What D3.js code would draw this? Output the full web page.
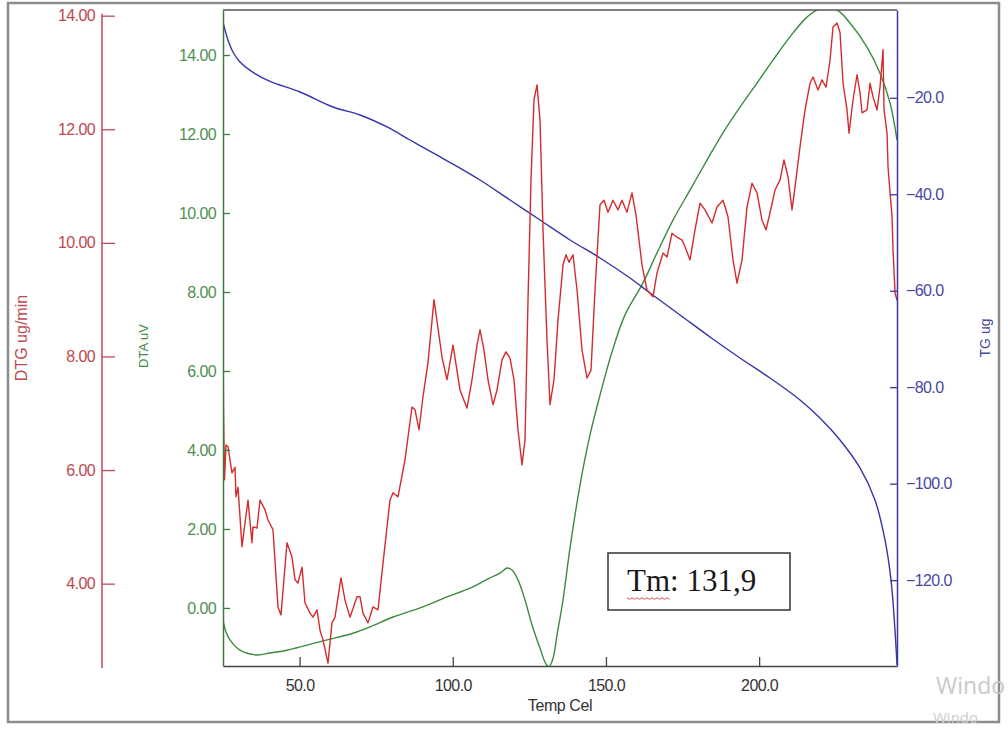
<!DOCTYPE html>
<html>
<head>
<meta charset="utf-8">
<script src="https://cdn.jsdelivr.net/npm/d3@7"></script>
<style>
  html, body { margin: 0; padding: 0; background: #ffffff; }
  svg { display: block; }
  text { font-family: "Liberation Sans", Arial, sans-serif; }
</style>
</head>
<body>
<svg id="chart" width="1008" height="731"></svg>
<script>
// Thermal analysis run: DTG (red), DTA (green) and TG (blue) versus temperature.

const tempTicks = [50, 100, 150, 200];
const dtgTicks = [4, 6, 8, 10, 12, 14];
const dtaTicks = [0, 2, 4, 6, 8, 10, 12, 14];
const tgTicks = [-20, -40, -60, -80, -100, -120];

// [temperature °C, DTG ug/min]
const dtgSeries = [
  [25.0, 8.38], [25.16, 7.06], [25.49, 5.83], [25.98, 6.44], [26.63, 6.41], [27.94, 5.95],
  [28.92, 6.05], [29.24, 5.53], [29.90, 5.70], [31.20, 4.65], [32.18, 5.07], [33.16, 5.47],
  [34.47, 4.72], [34.79, 5.00], [36.10, 4.98], [37.08, 5.47], [38.71, 5.30], [39.69, 5.12],
  [41.32, 4.95], [42.95, 3.59], [43.93, 3.45], [45.89, 4.72], [47.52, 4.47], [48.50, 4.07],
  [49.48, 4.01], [50.79, 4.29], [51.77, 3.66], [53.40, 3.48], [54.38, 3.41], [55.68, 3.54],
  [56.66, 3.18], [57.64, 3.01], [59.27, 2.60], [60.58, 3.31], [61.56, 3.41], [63.52, 4.10],
  [64.82, 3.71], [66.45, 3.41], [68.74, 3.77], [69.72, 3.77], [70.70, 3.48], [72.33, 3.31],
  [73.96, 3.59], [75.59, 3.54], [77.23, 4.36], [79.51, 5.47], [80.49, 5.60], [82.12, 5.53],
  [84.41, 6.18], [86.69, 7.11], [87.67, 7.06], [88.98, 6.71], [90.28, 7.29], [91.91, 7.89],
  [93.87, 9.00], [96.49, 7.99], [98.12, 7.59], [100.08, 8.20], [102.36, 7.41], [104.65, 7.09],
  [106.28, 7.59], [107.91, 8.20], [108.89, 8.47], [110.19, 8.11], [111.50, 7.59], [113.13, 7.15],
  [114.44, 7.41], [116.07, 7.94], [117.37, 8.08], [118.68, 7.97], [119.98, 7.59], [121.29, 6.71],
  [122.60, 6.09], [123.58, 6.53], [124.56, 9.00], [125.54, 11.11], [126.52, 12.52], [127.50, 12.78],
  [128.48, 12.16], [129.45, 10.23], [130.76, 8.29], [131.74, 7.15], [133.04, 7.59], [134.35, 8.64],
  [135.98, 9.61], [136.96, 9.79], [137.94, 9.66], [139.25, 9.79], [140.56, 9.17], [142.19, 8.11],
  [143.82, 7.62], [145.12, 7.76], [146.43, 9.17], [148.06, 10.67], [149.36, 10.75], [150.67, 10.54],
  [152.30, 10.75], [153.93, 10.58], [155.24, 10.75], [156.87, 10.54], [158.50, 10.88], [159.81, 10.49],
  [161.77, 9.61], [163.40, 9.17], [165.36, 9.05], [166.67, 9.47], [168.63, 9.82], [169.93, 9.75],
  [171.56, 10.17], [173.19, 10.10], [174.83, 10.05], [175.80, 9.93], [177.44, 9.70], [179.07, 10.23],
  [180.70, 10.70], [182.33, 10.58], [184.62, 10.35], [186.25, 10.63], [188.21, 10.75], [189.84, 10.46],
  [191.47, 9.70], [192.78, 9.29], [194.41, 9.70], [196.04, 10.63], [197.68, 11.05], [199.31, 10.88],
  [200.94, 10.40], [202.25, 10.23], [203.55, 10.53], [205.18, 10.93], [206.82, 11.11], [208.12, 11.46],
  [209.43, 11.16], [210.73, 10.58], [211.71, 10.98], [213.34, 11.69], [214.98, 12.34], [216.61, 12.81],
  [217.59, 12.92], [219.22, 12.69], [220.53, 12.87], [221.84, 12.74], [223.14, 13.22], [224.12, 13.80],
  [225.43, 13.87], [226.41, 13.70], [227.39, 12.81], [228.69, 12.34], [229.34, 11.93], [230.65, 12.52],
  [231.96, 12.96], [232.93, 12.64], [233.59, 12.29], [235.22, 12.34], [236.20, 12.81], [237.18, 12.57],
  [238.48, 12.34], [239.46, 12.74], [240.44, 13.40], [240.77, 12.34], [241.75, 11.93], [242.07, 11.34],
  [242.73, 10.88], [243.38, 10.46], [243.71, 9.87], [244.36, 9.12], [245.0, 8.99]
];

// [temperature °C, DTA uV]
const dtaSeries = [
  [25.0, -0.31], [25.98, -0.61], [27.28, -0.81], [30.55, -1.07], [36.10, -1.19], [40.34, -1.14],
  [45.89, -1.07], [52.42, -0.94], [58.95, -0.81], [67.43, -0.64], [72.98, -0.48], [80.49, -0.23],
  [89.30, 0.00], [98.12, 0.28], [105.62, 0.50], [112.15, 0.76], [115.42, 0.88], [117.71, 1.01],
  [119.34, 0.96], [121.29, 0.71], [123.58, 0.20], [125.86, -0.43], [128.48, -1.02], [130.43, -1.42],
  [131.41, -1.49], [132.72, -1.28], [134.02, -0.69], [135.98, 0.20], [138.27, 1.52], [141.53, 3.11],
  [144.79, 4.38], [148.06, 5.39], [151.97, 6.48], [156.22, 7.42], [162.09, 8.23], [166.66, 8.99],
  [171.88, 9.82], [177.43, 10.58], [182.98, 11.34], [188.20, 12.03], [193.75, 12.68], [199.30, 13.29],
  [204.52, 13.87], [210.07, 14.46], [215.62, 14.96], [219.86, 15.17], [225.41, 15.14], [229.66, 14.81],
  [235.21, 14.20], [239.45, 13.54], [242.72, 12.79], [245.0, 11.85]
];

// [temperature °C, TG ug]
const tgSeries = [
  [25.0, -4.29], [25.65, -5.95], [26.63, -8.02], [28.26, -10.51], [30.55, -12.58], [35.45, -15.00],
  [40.34, -16.60], [50.13, -18.80], [60.91, -21.91], [69.72, -23.57], [78.53, -26.05], [86.04, -28.75],
  [93.55, -31.44], [102.36, -34.57], [108.89, -37.04], [118.68, -41.19], [128.48, -45.33], [138.27, -49.48],
  [148.06, -53.21], [157.85, -57.36], [164.38, -60.47], [174.17, -65.02], [183.96, -69.59], [193.75, -73.94],
  [203.55, -78.09], [213.34, -82.64], [219.86, -86.38], [226.39, -90.94], [232.92, -96.74], [237.81, -103.38],
  [241.08, -111.67], [243.04, -119.96], [244.34, -130.32], [245.0, -137.58]
];

const tmLabel = "Tm: 131,9";

// ---- layout ----
const plot = { left: 223, right: 897, top: 10, bottom: 666 };
const redAxisX = 102;

const svg = d3.select("#chart");

// outer frame
svg.append("rect")
  .attr("x", 8).attr("y", 3).attr("width", 991).attr("height", 719)
  .attr("fill", "none").attr("stroke", "#8c8c8c").attr("stroke-width", 2.5);

// ---- scales ----
const x = d3.scaleLinear().domain([25, 245]).range([plot.left, plot.right]);
const yDTG = d3.scaleLinear().domain([2.55, 14.1]).range([plot.bottom, plot.top]);
const yDTA = d3.scaleLinear().domain([-1.47, 15.14]).range([plot.bottom, plot.top]);
const yTG = d3.scaleLinear().domain([-137.8, -1.8]).range([plot.bottom, plot.top]);

// ---- clip ----
svg.append("defs").append("clipPath").attr("id", "plotClip")
  .append("rect")
  .attr("x", plot.left).attr("y", plot.top)
  .attr("width", plot.right - plot.left).attr("height", plot.bottom - plot.top);

// ---- curves ----
const curves = svg.append("g").attr("clip-path", "url(#plotClip)");

curves.append("path")
  .datum(dtaSeries)
  .attr("fill", "none").attr("stroke", "#3d8a3d").attr("stroke-width", 1.4)
  .attr("d", d3.line().x(d => x(d[0])).y(d => yDTA(d[1])).curve(d3.curveCatmullRom.alpha(0.5)));

curves.append("path")
  .datum(tgSeries)
  .attr("fill", "none").attr("stroke", "#3535a8").attr("stroke-width", 1.4)
  .attr("d", d3.line().x(d => x(d[0])).y(d => yTG(d[1])).curve(d3.curveCatmullRom.alpha(0.5)));

curves.append("path")
  .datum(dtgSeries)
  .attr("fill", "none").attr("stroke", "#d42c2c").attr("stroke-width", 1.4)
  .attr("stroke-linejoin", "round")
  .attr("d", d3.line().x(d => x(d[0])).y(d => yDTG(d[1])));

// ---- plot frame (top edge) ----
svg.append("line")
  .attr("x1", plot.left).attr("x2", plot.right)
  .attr("y1", plot.top).attr("y2", plot.top)
  .attr("stroke", "#555").attr("stroke-width", 1.5);

// ---- bottom temperature axis ----
const gx = svg.append("g")
  .attr("transform", `translate(0,${plot.bottom})`)
  .call(d3.axisBottom(x).tickValues(tempTicks).tickFormat(d3.format(".1f"))
    .tickSize(-9).tickSizeOuter(0).tickPadding(14));
gx.select(".domain").attr("stroke", "#444").attr("stroke-width", 1.5);
gx.selectAll(".tick line").attr("stroke", "#444").attr("stroke-width", 1.3);
gx.selectAll(".tick text").attr("fill", "#333").style("font-size", "16px")
  .style("letter-spacing", "-0.6px");

svg.append("text")
  .attr("x", (plot.left + plot.right) / 2).attr("y", 711)
  .attr("text-anchor", "middle").attr("fill", "#333")
  .style("font-size", "16px").style("letter-spacing", "-0.4px")
  .text("Temp Cel");

// ---- DTA axis (green, at plot left edge) ----
const gDTA = svg.append("g")
  .attr("transform", `translate(${plot.left},0)`)
  .call(d3.axisLeft(yDTA).tickValues(dtaTicks).tickFormat(d3.format(".2f"))
    .tickSize(-7).tickSizeOuter(0).tickPadding(7));
gDTA.select(".domain").attr("stroke", "#3d7d3d").attr("stroke-width", 1.5);
gDTA.selectAll(".tick line").attr("stroke", "#3d7d3d").attr("stroke-width", 1.3);
gDTA.selectAll(".tick text").attr("fill", "#4f8f4f").style("font-size", "16px")
  .style("letter-spacing", "-0.6px");

svg.append("text")
  .attr("transform", `translate(148,${(plot.top + plot.bottom) / 2 + 8}) rotate(-90)`)
  .attr("text-anchor", "middle").attr("fill", "#3d8a3d")
  .style("font-size", "13px")
  .text("DTA uV");

// ---- DTG axis (red, free-standing) ----
const gDTG = svg.append("g")
  .attr("transform", `translate(${redAxisX},0)`)
  .call(d3.axisLeft(yDTG).tickValues(dtgTicks).tickFormat(d3.format(".2f"))
    .tickSize(-13).tickSizeOuter(0).tickPadding(7));
gDTG.select(".domain").remove();
gDTG.append("line")
  .attr("x1", 0).attr("x2", 0)
  .attr("y1", yDTG(d3.max(dtgTicks)) - 2).attr("y2", yDTG.range()[0] + 2)
  .attr("stroke", "#c24a58").attr("stroke-width", 1.5);
gDTG.selectAll(".tick line").attr("stroke", "#c24a58").attr("stroke-width", 1.3);
gDTG.selectAll(".tick text").attr("fill", "#c0474f").style("font-size", "16px")
  .style("letter-spacing", "-0.6px");

svg.append("text")
  .attr("transform", `translate(27,${(plot.top + plot.bottom) / 2}) rotate(-90)`)
  .attr("text-anchor", "middle").attr("fill", "#c0474f")
  .style("font-size", "16px")
  .text("DTG ug/min");

// ---- TG axis (blue, at plot right edge) ----
const gTG = svg.append("g")
  .attr("transform", `translate(${plot.right},0)`)
  .call(d3.axisRight(yTG).tickValues(tgTicks).tickFormat(d3.format(".1f"))
    .tickSize(-7).tickSizeOuter(0).tickPadding(9));
gTG.select(".domain").attr("stroke", "#3a3aa0").attr("stroke-width", 1.5);
gTG.selectAll(".tick line").attr("stroke", "#3a3aa0").attr("stroke-width", 1.3);
gTG.selectAll(".tick text").attr("fill", "#4848a0").style("font-size", "16px")
  .style("letter-spacing", "-0.6px");

svg.append("text")
  .attr("transform", `translate(990,${(plot.top + plot.bottom) / 2}) rotate(-90)`)
  .attr("text-anchor", "middle").attr("fill", "#4848a0")
  .style("font-size", "14px")
  .text("TG ug");

// ---- Tm annotation box ----
const box = svg.append("g");
box.append("rect")
  .attr("x", 608).attr("y", 553).attr("width", 182).attr("height", 57)
  .attr("fill", "#ffffff").attr("stroke", "#333").attr("stroke-width", 1.5);
box.append("text")
  .attr("x", 627).attr("y", 591)
  .attr("fill", "#1a1a1a")
  .style("font-family", "'Liberation Serif', 'Times New Roman', serif")
  .style("font-size", "31px")
  .text(tmLabel);

// spell-check style squiggle under the first word
const probe = box.append("text")
  .style("font-family", "'Liberation Serif', 'Times New Roman', serif")
  .style("font-size", "31px")
  .attr("visibility", "hidden")
  .text(tmLabel.split(":")[0]);
const wordW = probe.node().getComputedTextLength();
probe.remove();
const sq = d3.range(0, Math.floor(wordW / 2.5) + 1).map(i => [627 + i * 2.5, 598 + (i % 2 ? 1.3 : -0.2)]);
box.append("path")
  .attr("d", d3.line()(sq))
  .attr("fill", "none").attr("stroke", "#e05050").attr("stroke-width", 1);

// ---- desktop watermark (runs off the right edge) ----
svg.append("text")
  .attr("x", 936).attr("y", 694)
  .attr("fill", "#c9c9c9")
  .style("font-family", "'Open Sans', 'Noto Sans', sans-serif")
  .style("font-size", "23px")
  .text("Windo");
svg.append("text")
  .attr("x", 933).attr("y", 723)
  .attr("fill", "#cccccc")
  .style("font-family", "'Open Sans', 'Noto Sans', sans-serif")
  .style("font-size", "15px")
  .text("Windo");
</script>
</body>
</html>
